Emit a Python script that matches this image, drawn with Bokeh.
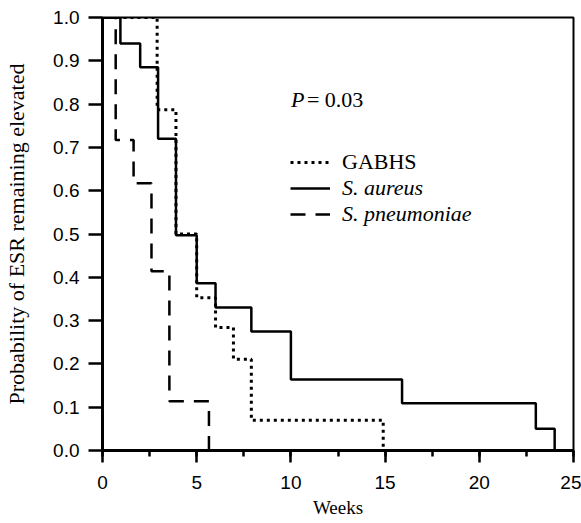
from bokeh.plotting import figure
from bokeh.models import (Range1d, SingleIntervalTicker, NumeralTickFormatter,
                          Legend, LegendItem, Label)
from bokeh.embed import file_html
from bokeh.resources import INLINE

# Kaplan-Meier style step data (weeks, probability)
gabhs_weeks = [0, 2.9, 3.9, 5.0, 6.0, 6.95, 7.9, 14.9]
gabhs_prob = [1.0, 0.787, 0.5, 0.353, 0.284, 0.211, 0.07, 0.0]

aureus_weeks = [0, 0.95, 2.0, 2.95, 3.9, 5.0, 6.0, 7.9, 10.0, 15.9, 23.0, 24.0]
aureus_prob = [1.0, 0.94, 0.885, 0.72, 0.497, 0.386, 0.33, 0.275, 0.164, 0.109, 0.05, 0.0]

pneumo_weeks = [0, 0.7, 1.65, 2.6, 3.55, 5.65]
pneumo_prob = [1.0, 0.717, 0.617, 0.414, 0.114, 0.0]

series_labels = ["GABHS", "S. aureus", "S. pneumoniae"]
p_value_text = "= 0.03"
x_title = "Weeks"
y_title = "Probability of ESR remaining elevated"

p = figure(width=581, height=523, x_range=Range1d(0, 25), y_range=Range1d(0, 1.0),
           output_backend="svg", toolbar_location=None,
           min_border_left=102, min_border_right=8, min_border_top=17, min_border_bottom=73)
p.background_fill_color = "white"
p.border_fill_color = "white"
p.grid.visible = False
p.outline_line_color = "black"
p.outline_line_width = 2
p.outline_line_alpha = 1.0

# axes
p.xaxis.ticker = SingleIntervalTicker(interval=5, num_minor_ticks=2)
p.yaxis.ticker = SingleIntervalTicker(interval=0.1, num_minor_ticks=0)
p.yaxis.formatter = NumeralTickFormatter(format="0.0")
for ax in (p.xaxis[0], p.yaxis[0]):
    ax.axis_line_width = 3
    ax.axis_line_color = "black"
    ax.major_tick_line_width = 2.5
    ax.minor_tick_line_width = 2.5
    ax.major_tick_line_color = "black"
    ax.minor_tick_line_color = "black"
    ax.major_tick_in = 0
    ax.minor_tick_in = 0
    ax.major_label_text_font = "Liberation Sans"
    ax.major_label_text_font_size = "19px"
    ax.major_label_text_color = "black"
    ax.axis_label_text_font = "Liberation Serif"
    ax.axis_label_text_font_style = "normal"
    ax.axis_label_text_color = "black"
p.xaxis.major_tick_out = 12
p.xaxis.minor_tick_out = 6
p.xaxis.major_label_standoff = 13
p.xaxis.axis_label = x_title
p.xaxis.axis_label_text_font_size = "19px"
p.xaxis.axis_label_standoff = 5
p.yaxis.major_tick_out = 14
p.yaxis.major_label_standoff = 9
p.yaxis.axis_label = y_title
p.yaxis.axis_label_text_font_size = "22px"
p.yaxis.axis_label_standoff = 21

r_g = p.step(gabhs_weeks, gabhs_prob, mode="after", line_color="black",
             line_width=3, line_dash="3 4")
r_a = p.step(aureus_weeks, aureus_prob, mode="after", line_color="black",
             line_width=2.5)
r_p = p.step(pneumo_weeks, pneumo_prob, mode="after", line_color="black",
             line_width=2.5, line_dash="15 10")

common = dict(orientation="vertical", padding=0, margin=0, spacing=0,
              glyph_width=40, glyph_height=26, label_height=26, label_standoff=12,
              border_line_color=None, background_fill_alpha=0,
              label_text_font="Liberation Serif", label_text_font_size="22px",
              label_text_color="black")
leg1 = Legend(items=[LegendItem(label=series_labels[0], renderers=[r_g])],
              location=(188, 275), label_text_font_style="normal", **common)
leg2 = Legend(items=[LegendItem(label=series_labels[1], renderers=[r_a]),
                     LegendItem(label=series_labels[2], renderers=[r_p])],
              location=(188, 223), label_text_font_style="italic", **common)
p.add_layout(leg1)
p.add_layout(leg2)

p.add_layout(Label(x=10.0, y=0.81, text="P", text_font="Liberation Serif",
                   text_font_style="italic", text_font_size="22px",
                   text_baseline="alphabetic", text_color="black"))
p.add_layout(Label(x=10.0, y=0.81, x_offset=16, text=p_value_text,
                   text_font="Liberation Serif", text_font_size="22px",
                   text_baseline="alphabetic", text_color="black"))

open("out.html", "w").write(file_html(p, INLINE))
